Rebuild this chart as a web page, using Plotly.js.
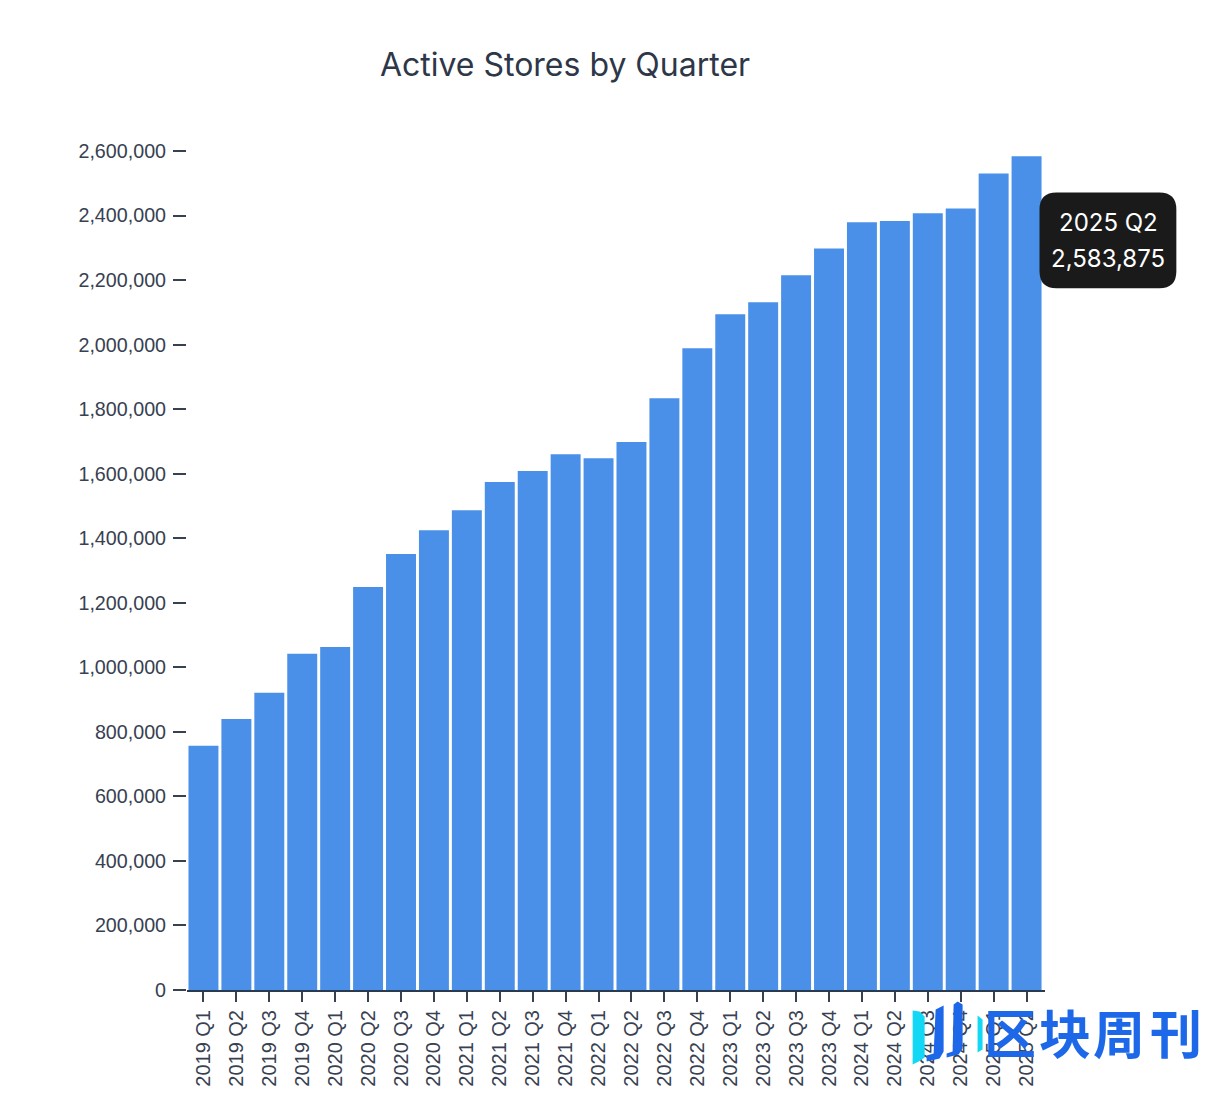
<!DOCTYPE html>
<html>
<head>
<meta charset="utf-8">
<script src="https://cdn.plot.ly/plotly-3.0.1.min.js"></script>
<style>html,body{margin:0;padding:0;background:#fff}#chart{width:1232px;height:1112px}</style>
</head>
<body>
<div id="chart"></div>
<script>
const quarters = ["2019 Q1","2019 Q2","2019 Q3","2019 Q4","2020 Q1","2020 Q2","2020 Q3","2020 Q4","2021 Q1","2021 Q2","2021 Q3","2021 Q4","2022 Q1","2022 Q2","2022 Q3","2022 Q4","2023 Q1","2023 Q2","2023 Q3","2023 Q4","2024 Q1","2024 Q2","2024 Q3","2024 Q4","2025 Q1","2025 Q2"];
const activeStores = [756800,840000,921000,1042000,1063000,1249000,1351000,1425000,1487000,1574000,1608000,1660000,1648000,1698000,1834000,1989000,2094000,2131000,2215000,2298000,2379000,2383000,2407000,2422000,2530000,2583875];
const yTicks = [0,200000,400000,600000,800000,1000000,1200000,1400000,1600000,1800000,2000000,2200000,2400000,2600000];
const watermarkChars = ['区','块','周','刊'];
const W = 1232, H = 1112;
const M = {l:186.5, r:186.5, t:150.5, b:121.5, pad:0};
const PW = W - M.l - M.r, PH = H - M.t - M.b;
const px = v => (v - M.l) / PW, py = v => 1 - (v - M.t) / PH;
const P = (x, y) => px(x).toFixed(5) + ',' + py(y).toFixed(5);
const poly = pts => 'M' + pts.map(p => P(p[0], p[1])).join(' L') + ' Z';
const rounded = (x0, y0, x1, y1, r) =>
  'M' + P(x0 + r, y0) + ' L' + P(x1 - r, y0) + ' Q' + P(x1, y0) + ' ' + P(x1, y0 + r) +
  ' L' + P(x1, y1 - r) + ' Q' + P(x1, y1) + ' ' + P(x1 - r, y1) +
  ' L' + P(x0 + r, y1) + ' Q' + P(x0, y1) + ' ' + P(x0, y1 - r) +
  ' L' + P(x0, y0 + r) + ' Q' + P(x0, y0) + ' ' + P(x0 + r, y0) + ' Z';
const shape = (path, color) => ({type:'path', xref:'paper', yref:'paper', path, fillcolor:color, line:{width:0}, layer:'above'});
const last = quarters.length - 1;
const note = (text, x, y, size, color, family, weight) => ({
  text, xref:'paper', yref:'paper', x:px(x), y:py(y), xanchor:'center', yanchor:'middle',
  showarrow:false, font:{size, color, family, weight: weight || 400}
});
const charX = [1010, 1066, 1120, 1177];
const trace = {
  type:'bar', x:quarters, y:activeStores,
  marker:{color:'#4a90e8', line:{width:0}},
  hovertemplate:'%{x}<br>%{y:,}<extra></extra>'
};
const layout = {
  width:W, height:H, autosize:false,
  paper_bgcolor:'#ffffff', plot_bgcolor:'#ffffff', showlegend:false, bargap:0.09,
  margin:M,
  title:{text:'Active Stores by Quarter', x:565/W, xref:'container', xanchor:'center',
         y:1-65/H, yref:'container', yanchor:'middle',
         font:{family:'Inter, sans-serif', size:32, color:'#2d3748'}},
  font:{family:'"Liberation Sans", sans-serif', size:19.7, color:'#374151'},
  xaxis:{type:'category', categoryorder:'array', categoryarray:quarters, range:[-0.5,25.56],
         tickangle:-90, ticks:'outside', ticklen:10, tickwidth:1.5, tickcolor:'#374151',
         showline:true, linecolor:'#2a3a50', linewidth:2, showgrid:false, zeroline:false,
         tickfont:{size:20, color:'#374151'}, ticklabelstandoff:0, automargin:false, fixedrange:true},
  yaxis:{range:[0,2600000], tickmode:'array', tickvals:yTicks, tickformat:',d', ticks:'outside',
         ticklen:13, tickwidth:1.5, tickcolor:'#374151', showline:false, showgrid:false, zeroline:false,
         tickfont:{size:19.7, color:'#374151'}, ticklabelstandoff:3, automargin:false, fixedrange:true},
  shapes:[
    shape(rounded(1040,192,1177,288,17), '#1a1a1a'),
    shape(poly([[913,1011],[920,1012],[925,1017],[925,1058],[919,1062],[913,1065]]), '#12d8f5'),
    shape(poly([[927,1056],[934,1054],[936,1010],[944,1006],[944,1052],[940,1059],[927,1062]]), '#1d68e8'),
    shape(poly([[947,1054],[953,1052],[954,1005],[958,1002],[963,1005],[963,1049],[959,1055],[947,1058]]), '#1d68e8'),
    shape(poly([[978,1016],[983,1020],[983,1050],[978,1053]]), '#12d8f5')
  ],
  annotations:[
    note(quarters[last], 1109, 222, 24, '#ffffff', 'Inter, sans-serif'),
    note(activeStores[last].toLocaleString('en-US'), 1109, 258, 24, '#ffffff', 'Inter, sans-serif')
  ].concat(watermarkChars.map((c, i) => note(c, charX[i], 1032, 52, '#1d68e8', '"Noto Sans CJK SC", sans-serif', 700)))
};
Plotly.newPlot('chart', [trace], layout, {displayModeBar:false, responsive:false});
</script>
</body>
</html>
